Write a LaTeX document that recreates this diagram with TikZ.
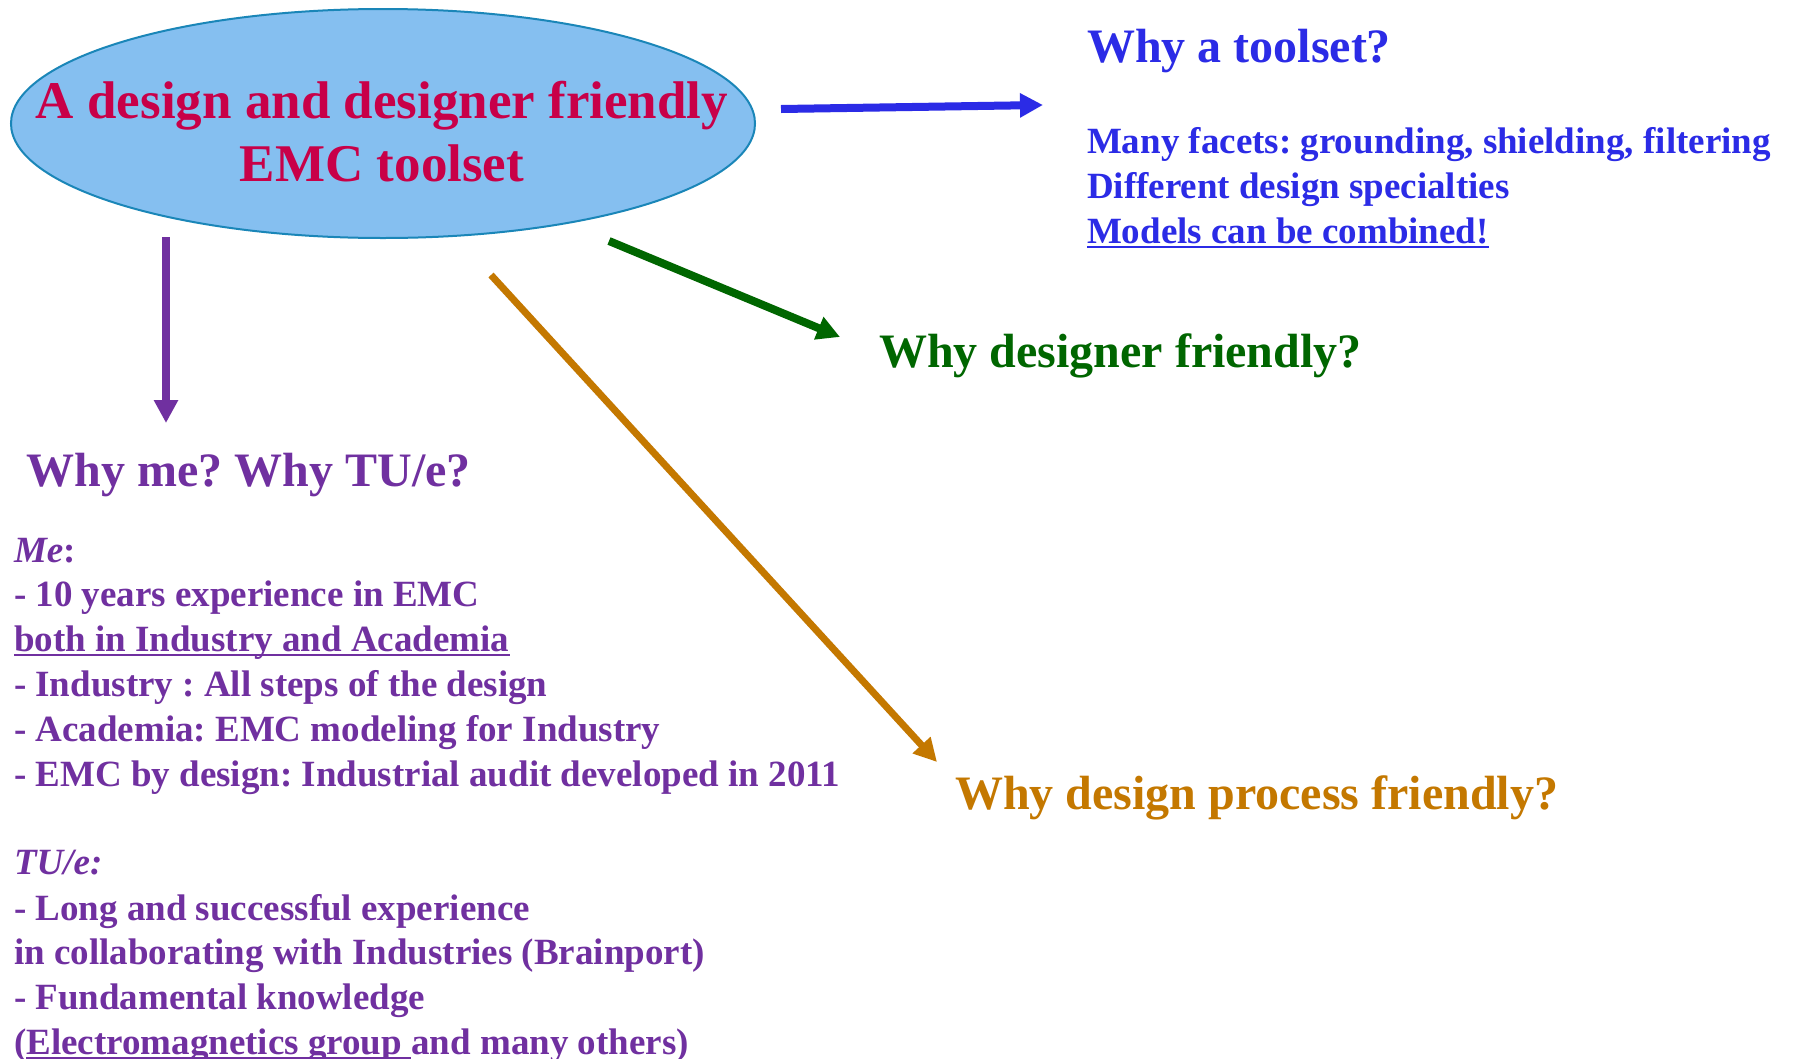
\documentclass[tikz,border=0pt]{standalone}
\usepackage{fontspec}
\setmainfont{Liberation Serif}
\usetikzlibrary{shapes.geometric,arrows.meta}
\definecolor{ellfill}{RGB}{133,191,240}
\definecolor{elldraw}{RGB}{26,134,184}
\definecolor{titlecol}{RGB}{200,0,72}
\definecolor{bluecol}{RGB}{43,43,230}
\definecolor{greencol}{RGB}{0,102,0}
\definecolor{purplecol}{RGB}{112,48,160}
\definecolor{orangecol}{RGB}{196,120,0}
\newcommand\myul[1]{\setbox0\hbox{#1}\rlap{\rule[-5pt]{\wd0}{2.5pt}}\box0}
\frenchspacing
\begin{document}
\frenchspacing
\begin{tikzpicture}[x=1pt,y=-1pt,
  every node/.style={inner sep=0pt,outer sep=0pt},
  titletext/.style={font=\fontsize{53}{64}\selectfont\bfseries,text=titlecol,anchor=base},
  headtext/.style={font=\fontsize{48}{58}\selectfont\bfseries,anchor=base west},
  bodytext/.style={font=\fontsize{37}{45}\selectfont\bfseries,anchor=base west},
  conn/.style={line width=8pt,-{Triangle[length=23pt,width=23pt]}}]
\useasboundingbox[fill=white] (0,0) rectangle (1794,1058);
% main ellipse
\node[ellipse,draw=elldraw,fill=ellfill,line width=2pt,minimum width=744pt,minimum height=229pt] (main) at (383,123.5) {};
\node[titletext] (t1) at (382,118) {A design and designer friendly};
\node[titletext] (t2) at (382,181) {EMC toolset};
% right top block
\node[headtext,text=bluecol] (h1) at (1087,62) {Why a toolset?};
\node[bodytext,text=bluecol] (b1) at (1087,153) {Many facets: grounding, shielding, filtering};
\node[bodytext,text=bluecol] (b2) at (1087,198) {Different design specialties};
\node[bodytext,text=bluecol] (b3) at (1087,243) {\myul{Models can be combined!}};
% green and orange headings
\node[headtext,text=greencol] (h2) at (879,367) {Why designer friendly?};
\node[headtext,text=orangecol] (h3) at (955,809) {Why design process friendly?};
% left block
\node[headtext,text=purplecol] (h4) at (27,486) {Why me? Why TU/e?};
\begin{scope}[every node/.append style={bodytext,text=purplecol}]
\node (l1) at (14,562) {\itshape Me\upshape:};
\node (l2) at (14,606) {- 10 years experience in EMC};
\node (l3) at (14,651) {\myul{both in Industry and Academia}};
\node (l4) at (14,696) {- Industry : All steps of the design};
\node (l5) at (14,741) {- Academia: EMC modeling for Industry};
\node (l6) at (14,786) {- EMC by design: Industrial audit developed in 2011};
\node (l7) at (14,874) {\itshape TU/e:};
\node (l8) at (14,920) {- Long and successful experience};
\node (l9) at (14,964) {in collaborating with Industries (Brainport)};
\node (l10) at (14,1009) {- Fundamental knowledge};
\node (l11) at (14,1054) {(\myul{Electromagnetics group }and many others)};
\end{scope}
% connectors
\coordinate (bS) at (781,109); \coordinate (bE) at (1043,105);
\coordinate (gS) at (609,241); \coordinate (gE) at (840,337);
\coordinate (pS) at (166,237); \coordinate (pE) at (166,423);
\coordinate (oS) at (491,275); \coordinate (oE) at (937,762);
\draw[conn,draw=bluecol,fill=bluecol] (bS) -- (bE);
\draw[conn,draw=greencol,fill=greencol] (gS) -- (gE);
\draw[conn,draw=purplecol,fill=purplecol] (pS) -- (pE);
\draw[conn,draw=orangecol,fill=orangecol,line width=7pt] (oS) -- (oE);
\end{tikzpicture}
\end{document}
